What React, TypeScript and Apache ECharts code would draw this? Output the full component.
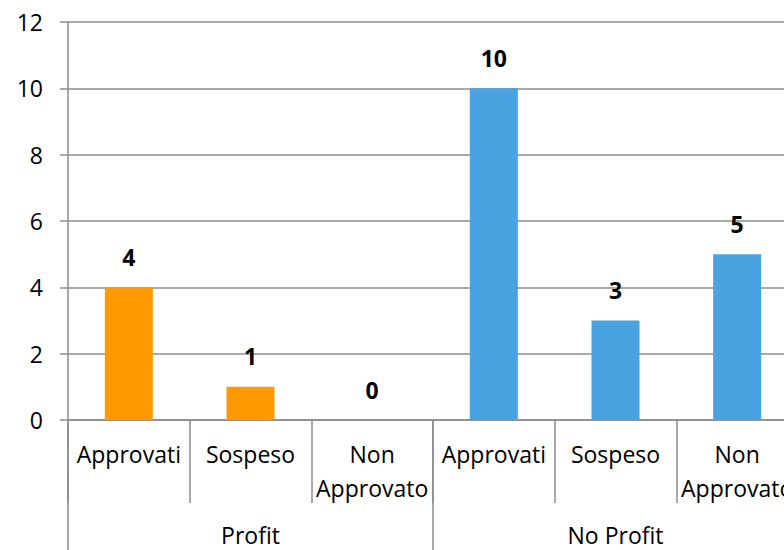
import React, { useEffect, useRef } from "react";
import * as echarts from "echarts";

const categories = ["Approvati", "Sospeso", "Non Approvato", "Approvati", "Sospeso", "Non Approvato"];
const groups = ["Profit", "No Profit"];
const groupOf = [0, 0, 0, 1, 1, 1];
const values = [4, 1, 0, 10, 3, 5];
const groupColors = ["#FF9900", "#48A3E0"];
const yTicks = { min: 0, max: 12, interval: 2 };

const FONT = "'Open Sans', sans-serif";
const GRAY = "#8C8C8C";

export default function App() {
  const ref = useRef<HTMLDivElement>(null);
  useEffect(() => {
    if (!ref.current) return;
    const chart = echarts.init(ref.current, null, { renderer: "svg" });
    chart.setOption({
      animation: false,
      backgroundColor: "#FFFFFF",
      textStyle: { fontFamily: FONT },
      grid: {
        left: 68,
        top: 22,
        width: 730,
        height: 398,
        containLabel: false,
        outerBoundsMode: "none",
      },
      xAxis: [
        {
          type: "category",
          data: categories.map((c, i) => ({ value: c + "|" + i })),
          position: "bottom",
          axisLine: { show: true, lineStyle: { color: GRAY, width: 1.5 } },
          axisTick: { show: true, length: 83, lineStyle: { color: GRAY, width: 1.5 } },
          axisLabel: {
            interval: 0,
            margin: 17,
            color: "#000",
            fontFamily: FONT,
            fontSize: 23,
            lineHeight: 34,
            verticalAlign: "top",
            formatter: (v: string) => v.split("|")[0].replace("Non ", "Non\n"),
          },
          splitLine: { show: false },
        },
        {
          type: "category",
          data: groups,
          position: "bottom",
          gridIndex: 0,
          axisLine: { show: false },
          axisTick: { show: true, length: 140, lineStyle: { color: GRAY, width: 1.5 } },
          axisLabel: {
            interval: 0,
            margin: 103,
            color: "#000",
            fontFamily: FONT,
            fontSize: 23,
          },
          splitLine: { show: false },
        },
      ],
      yAxis: {
        type: "value",
        min: yTicks.min,
        max: yTicks.max,
        interval: yTicks.interval,
        axisLine: { show: true, lineStyle: { color: GRAY, width: 1.5 } },
        axisTick: { show: true, length: 8, lineStyle: { color: GRAY, width: 1.5 } },
        axisLabel: { color: "#000", fontFamily: FONT, fontSize: 23, margin: 25 },
        splitLine: { show: true, lineStyle: { color: GRAY, width: 1.5 } },
      },
      series: [
        {
          type: "bar",
          xAxisIndex: 0,
          barWidth: 48,
          data: values.map((v, i) => ({
            value: v,
            itemStyle: { color: groupColors[groupOf[i]] },
          })),
          label: {
            show: true,
            position: "top",
            distance: 19,
            color: "#000",
            fontFamily: FONT,
            fontWeight: "bold",
            fontSize: 23,
          },
        },
      ],
    });
    return () => chart.dispose();
  }, []);
  return (
    <div
      ref={ref}
      style={{ position: "absolute", left: 0, top: 0, width: 784, height: 550 }}
    />
  );
}
